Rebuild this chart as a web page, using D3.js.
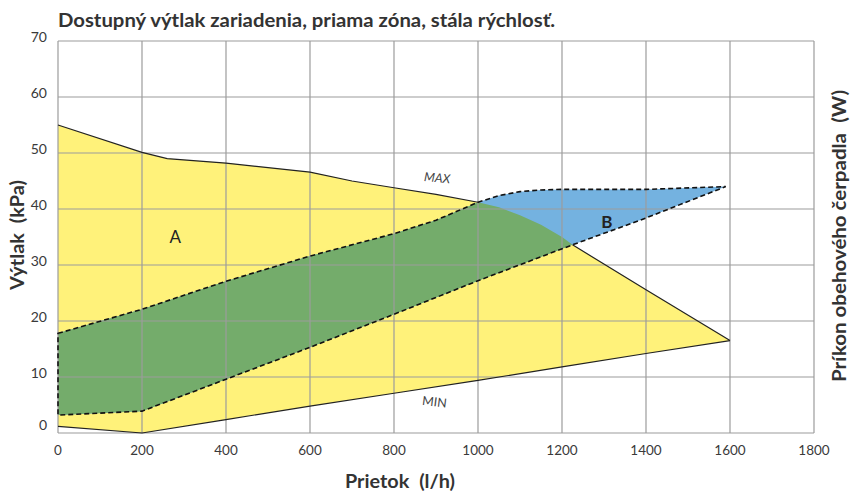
<!DOCTYPE html>
<html><head><meta charset="utf-8">
<script src="https://cdn.jsdelivr.net/npm/d3@7"></script>
<style>body{margin:0;background:#fff}svg{display:block}text{font-family:Lato,"Open Sans",sans-serif}</style>
</head><body>
<svg id="c" width="853" height="492"></svg>
<script>
// Data (flow l/h, head kPa)
const xTicks = [0,200,400,600,800,1000,1200,1400,1600,1800];
const yTicks = [0,10,20,30,40,50,60,70];
const maxCurve = [[0,55],[200,50.1],[260,49],[400,48.2],[600,46.6],[700,45],[800,43.8],[900,42.6],[1000,41.2]];
const maxHidden = [[1000,41.2],[1050,40.3],[1100,38.9],[1150,37.2],[1200,35],[1225,33.6]];
const maxTail = [[1225,33.6],[1400,25.6],[1600,16.5]];
const minCurve = [[0,1.2],[200,0],[400,2.4],[600,4.8],[800,7.1],[1000,9.4],[1200,11.8],[1400,14.2],[1600,16.5]];
const bandUpper = [[0,17.8],[200,22.1],[400,27.1],[600,31.6],[800,35.6],[900,38],[1000,41.2],[1050,42.4],[1100,43.1],[1150,43.4],[1200,43.5],[1400,43.5],[1590,44]];
const bandLower = [[0,3.2],[200,3.9],[400,9.6],[600,15.3],[800,21.2],[1000,27.2],[1225,33.6],[1400,38.4],[1590,44]];
const labels = [{t:"A",x:279,y:35},{t:"B",x:1307,y:37.7}];
const title = "Dostupný výtlak zariadenia, priama zóna, stála rýchlosť.";

const svg = d3.select("#c");
const x = d3.scaleLinear().domain([0,1800]).range([58,814]);
const y = d3.scaleLinear().domain([0,70]).range([433,41]);
const line = d3.line().x(d=>x(d[0])).y(d=>y(d[1]));

const yellowPoly = maxCurve.concat(maxHidden.slice(1), maxTail.slice(1), minCurve.slice().reverse());
const bandPoly = bandUpper.concat(bandLower.slice().reverse());

svg.append("defs").append("clipPath").attr("id","ycl")
  .append("path").attr("d", line(yellowPoly)+"Z");

svg.append("path").attr("d", line(yellowPoly)+"Z").attr("fill","#fff27a");
svg.append("path").attr("d", line(bandPoly)+"Z").attr("fill","#74b2e0");
svg.append("path").attr("d", line(bandPoly)+"Z").attr("fill","#74ac6b").attr("clip-path","url(#ycl)");

// grid
const g = svg.append("g").attr("stroke","#9c9c9c").attr("stroke-width",1.2);
g.selectAll("line.v").data(xTicks).enter().append("line")
  .attr("x1",d=>x(d)).attr("x2",d=>x(d)).attr("y1",y(70)).attr("y2",y(0));
g.selectAll("line.h").data(yTicks).enter().append("line")
  .attr("y1",d=>y(d)).attr("y2",d=>y(d)).attr("x1",x(0)).attr("x2",x(1800));

// curves
svg.append("path").attr("d",line(maxCurve)).attr("fill","none").attr("stroke","#222").attr("stroke-width",1.2);
svg.append("path").attr("d",line(maxTail)).attr("fill","none").attr("stroke","#222").attr("stroke-width",1.2);
svg.append("path").attr("d",line(minCurve)).attr("fill","none").attr("stroke","#222").attr("stroke-width",1.2);
svg.append("path").attr("d",line(bandPoly)+"Z").attr("fill","none").attr("stroke","#111")
  .attr("stroke-width",1.6).attr("stroke-dasharray","5,3");

// tick labels
svg.append("g").selectAll("text").data(xTicks).enter().append("text")
  .attr("x",d=>x(d)).attr("y",455).attr("text-anchor","middle")
  .attr("font-size",13.5).attr("fill","#3a3a3a").text(d=>d);
svg.append("g").selectAll("text").data(yTicks).enter().append("text")
  .attr("x",47).attr("y",d=>y(d)+(d===0?-3:1)).attr("text-anchor","end")
  .attr("font-size",14).attr("fill","#3a3a3a").text(d=>d);

// region labels
svg.append("g").selectAll("text").data(labels).enter().append("text")
  .attr("x",d=>x(d.x)).attr("y",d=>y(d.y)+6).attr("text-anchor","middle")
  .attr("font-size",17).attr("font-weight",d=>d.t==="B"?"bold":"normal").attr("fill","#222").text(d=>d.t);
svg.append("text").attr("transform",`translate(${x(902)},${y(45.5)+4}) rotate(5)`)
  .attr("text-anchor","middle").attr("font-size",12.5).attr("font-style","italic").attr("fill","#444").text("MAX");
svg.append("text").attr("transform",`translate(${x(895)},${y(5.5)+4}) rotate(7)`)
  .attr("text-anchor","middle").attr("font-size",12.5).attr("fill","#444").text("MIN");

// titles
svg.append("text").attr("x",58).attr("y",27).attr("font-size",19.5).attr("font-weight","bold").attr("fill","#333")
  .attr("textLength",497).attr("lengthAdjust","spacingAndGlyphs").text(title);
svg.append("text").attr("x",345).attr("y",488).attr("font-size",19).attr("font-weight","bold").attr("fill","#333")
  .attr("textLength",110).attr("lengthAdjust","spacingAndGlyphs").text("Prietok\u2002(l/h)");
svg.append("text").attr("transform","translate(24,290) rotate(-90)").attr("font-size",19).attr("font-weight","bold").attr("fill","#333")
  .attr("textLength",110).attr("lengthAdjust","spacingAndGlyphs").text("Výtlak\u2002(kPa)");
svg.append("text").attr("transform","translate(846,382) rotate(-90)").attr("font-size",19).attr("font-weight","bold").attr("fill","#333")
  .attr("textLength",292).attr("lengthAdjust","spacingAndGlyphs").text("Príkon obehového čerpadla\u2002(W)");
</script>
</body></html>
